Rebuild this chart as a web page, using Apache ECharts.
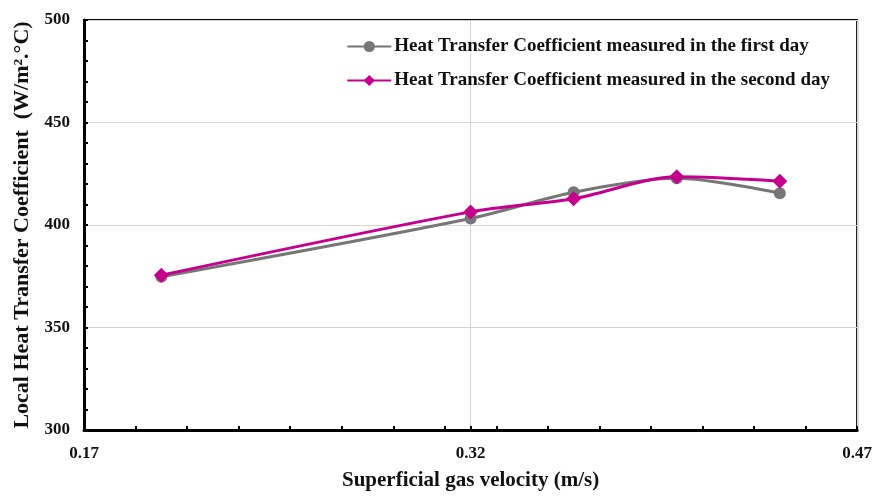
<!DOCTYPE html>
<html>
<head>
<meta charset="utf-8">
<script src="https://cdn.jsdelivr.net/npm/echarts@6/dist/echarts.min.js"></script>
<style>
  html, body { margin: 0; padding: 0; background: #fff; }
  #main { width: 875px; height: 496px; }
</style>
</head>
<body>
<div id="main"></div>
<script>
// gas velocity (m/s)
var velocity = [0.20, 0.32, 0.36, 0.40, 0.44];
// heat transfer coefficient (W/m2.C)
var firstDay = [374.8, 403.2, 416.0, 422.8, 415.5];
var secondDay = [375.5, 406.4, 412.8, 423.5, 421.4];
// tick labels
var xLabels = [0.17, 0.32, 0.47];
var xMinorTicks = [0.19, 0.21, 0.23, 0.25, 0.27, 0.29, 0.31, 0.33, 0.35, 0.37, 0.39, 0.41, 0.43, 0.45];

var font = '"Liberation Serif", "Times New Roman", serif';

function pairs(xs, ys) {
  return xs.map(function (x, i) { return [x, ys[i]]; });
}

var chart = echarts.init(document.getElementById('main'));
chart.setOption({
  animation: false,
  textStyle: { fontFamily: font },
  grid: {
    left: 84, right: 14, top: 20, bottom: 64,
    show: true, borderColor: '#000', borderWidth: 2
  },
  legend: {
    orient: 'vertical',
    right: 40,
    top: 32,
    itemWidth: 44,
    itemHeight: 14,
    itemGap: 15,
    textStyle: { fontFamily: font, fontWeight: 'bold', fontSize: 19, color: '#111', padding: [0, 0, 0, -2] },
    data: ['Heat Transfer Coefficient measured in the first day',
           'Heat Transfer Coefficient measured in the second day']
  },
  xAxis: [{
    type: 'value',
    min: 0.17,
    max: 0.47,
    position: 'bottom',
    name: 'Superficial gas velocity (m/s)',
    nameLocation: 'middle',
    nameGap: 40,
    nameTextStyle: { fontFamily: font, fontWeight: 'bold', fontSize: 21, color: '#111' },
    axisLine: { lineStyle: { color: '#000', width: 3 } },
    axisTick: { show: true, inside: true, length: 4, customValues: xLabels, lineStyle: { color: '#000', width: 2 } },
    axisLabel: {
      customValues: xLabels, margin: 15,
      fontFamily: font, fontWeight: 'bold', fontSize: 17, color: '#111',
      formatter: function (v) { return v.toFixed(2); }
    },
    splitLine: { show: true, lineStyle: { color: '#d4d4d4', width: 1 } }
  }, {
    type: 'value',
    min: 0.17,
    max: 0.47,
    position: 'bottom',
    axisLine: { show: false },
    axisLabel: { show: false },
    splitLine: { show: false },
    axisTick: { show: true, inside: true, length: 4, customValues: xMinorTicks, lineStyle: { color: '#000', width: 2 } }
  }],
  yAxis: {
    type: 'value',
    min: 300,
    max: 500,
    interval: 50,
    name: 'Local Heat Transfer Coefficient  (W/m\u00b2.\u00b0C)',
    nameLocation: 'middle',
    nameGap: 51,
    nameTextStyle: { fontFamily: font, fontWeight: 'bold', fontSize: 22, color: '#111' },
    axisLine: { show: true, lineStyle: { color: '#000', width: 3 } },
    axisTick: { show: true, inside: true, length: 4, lineStyle: { color: '#000', width: 2 } },
    minorTick: { show: true, splitNumber: 5, length: 4, lineStyle: { color: '#000', width: 2 } },
    axisLabel: { margin: 14, fontFamily: font, fontWeight: 'bold', fontSize: 17, color: '#111' },
    splitLine: { show: true, lineStyle: { color: '#d4d4d4', width: 1 } }
  },
  series: [{
    name: 'Heat Transfer Coefficient measured in the first day',
    type: 'line',
    smooth: 0.3,
    symbol: 'circle',
    symbolSize: 12,
    itemStyle: { color: '#767676' },
    lineStyle: { color: '#767676', width: 3 },
    data: pairs(velocity, firstDay)
  }, {
    name: 'Heat Transfer Coefficient measured in the second day',
    type: 'line',
    smooth: 0.3,
    symbol: 'diamond',
    symbolSize: 15,
    itemStyle: { color: '#c4008c' },
    lineStyle: { color: '#c4008c', width: 3 },
    data: pairs(velocity, secondDay)
  }]
});
</script>
</body>
</html>
